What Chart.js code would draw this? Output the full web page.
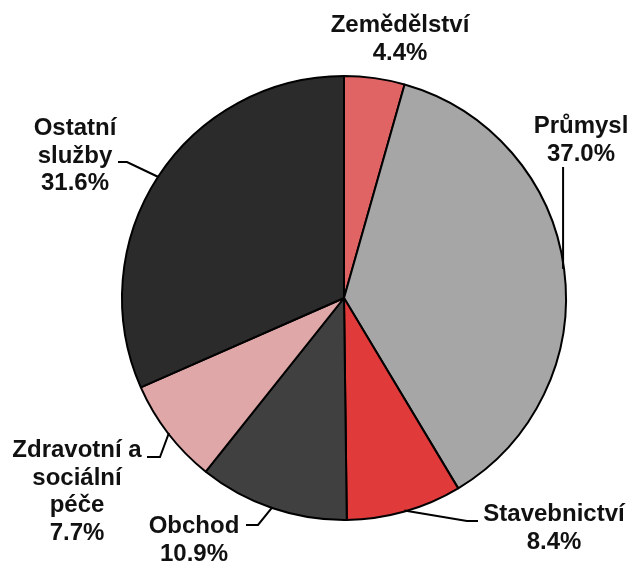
<!DOCTYPE html>
<html>
<head>
<meta charset="utf-8">
<script src="https://cdn.jsdelivr.net/npm/chart.js@4.4.0/dist/chart.umd.min.js"></script>
<style>
    html, body { margin: 0; padding: 0; background: #fff; }
    #wrap { width: 635px; height: 563px; position: relative; }
</style>
</head>
<body>
<div id="wrap"><canvas id="chartSektory"></canvas></div>
<script>
// Data
const categories = ['Zemědělství', 'Průmysl', 'Stavebnictví', 'Obchod', 'Zdravotní a sociální péče', 'Ostatní služby'];
const shares = [4.4, 37.0, 8.4, 10.9, 7.7, 31.6];
const sliceColors = ['#e06464', '#a6a6a6', '#e03a3a', '#404040', '#e0a7a8', '#2b2b2b'];

// Label layout (line breaks, text centre, first baseline, leader elbow + end)
// 'v' = go straight up/down from the anchor to this y
const labelLayout = [
    { lines: ['Zemědělství'], x: 400, y: 32, leader: null },
    { lines: ['Průmysl'], x: 581, y: 133, leader: [['v', 167]] },
    { lines: ['Stavebnictví'], x: 554, y: 521, leader: [[467, 521], [478, 521]] },
    { lines: ['Obchod'], x: 194, y: 533, leader: [[258, 525], [246, 525]] },
    { lines: ['Zdravotní a', 'sociální', 'péče'], x: 77, y: 457, leader: [[160, 457], [147, 457]] },
    { lines: ['Ostatní', 'služby'], x: 75, y: 135, leader: [[127, 162], [118, 162]] }
];

const lineHeight = 27.5;

const pieLabels = {
    id: 'pieLabels',
    afterDraw(chart) {
        const ctx = chart.ctx;
        const meta = chart.getDatasetMeta(0);
        ctx.save();
        ctx.strokeStyle = '#000';
        ctx.lineWidth = 2;
        meta.data.forEach(function(arc, i) {
            const p = arc.getProps(['x', 'y', 'startAngle', 'endAngle', 'outerRadius'], true);
            const mid = (p.startAngle + p.endAngle) / 2;
            const ax = p.x + Math.cos(mid) * (p.outerRadius - 1);
            const ay = p.y + Math.sin(mid) * (p.outerRadius - 1);
            const lay = labelLayout[i];
            if (lay.leader) {
                ctx.beginPath();
                ctx.moveTo(ax, ay);
                lay.leader.forEach(function(pt) {
                    if (pt[0] === 'v') {
                        ctx.lineTo(ax, pt[1]);
                    } else {
                        ctx.lineTo(pt[0], pt[1]);
                    }
                });
                ctx.stroke();
            }
            const lines = lay.lines.concat([shares[i].toFixed(1) + '%']);
            ctx.fillStyle = '#111';
            ctx.font = 'bold 24px "Liberation Sans", Arial, sans-serif';
            ctx.textAlign = 'center';
            ctx.textBaseline = 'alphabetic';
            lines.forEach(function(t, k) {
                ctx.fillText(t, lay.x, lay.y + k * lineHeight);
            });
        });
        ctx.restore();
    }
};

new Chart(document.getElementById('chartSektory').getContext('2d'), {
    type: 'pie',
    data: {
        labels: categories,
        datasets: [{
            data: shares,
            backgroundColor: sliceColors,
            borderColor: '#000',
            borderWidth: 2
        }]
    },
    options: {
        responsive: true,
        maintainAspectRatio: false,
        animation: false,
        radius: 222,
        layout: {
            padding: { top: 76, bottom: 43, left: 122, right: 69 }
        },
        plugins: {
            legend: { display: false },
            tooltip: { enabled: false }
        }
    },
    plugins: [pieLabels]
});
</script>
</body>
</html>
